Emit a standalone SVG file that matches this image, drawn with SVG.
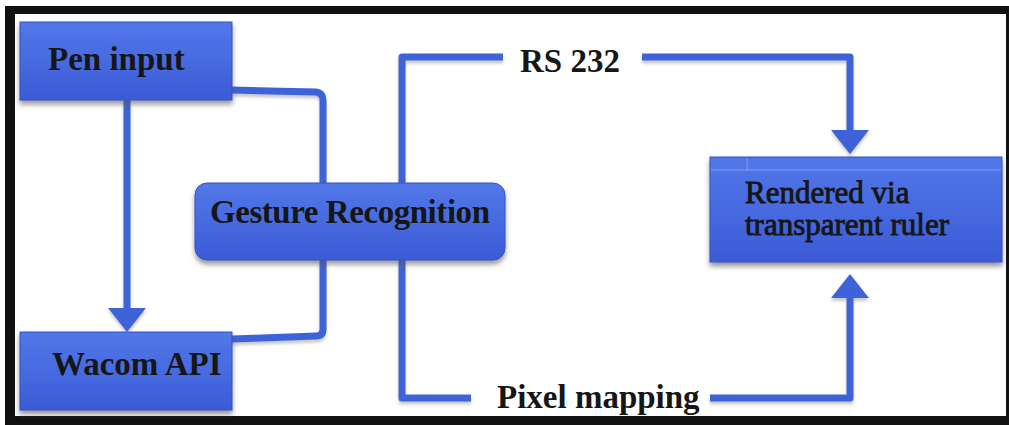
<svg xmlns="http://www.w3.org/2000/svg" width="1009" height="425" viewBox="0 0 1009 425">
<style>
.box{stroke:#3553c8;stroke-width:1;filter:url(#sh)}
.lbl{font-family:"Liberation Serif","Times New Roman",serif;font-weight:bold;font-size:33px;fill:#161616}
.lbl2{font-family:"Liberation Serif","Times New Roman",serif;font-size:31px;fill:#161616;stroke:#161616;stroke-width:0.9}
.con{fill:none;stroke:#3e63d9;stroke-width:7;stroke-linejoin:round;filter:url(#lsh)}
</style>
<defs>
<linearGradient id="g" x1="0" y1="0" x2="0" y2="1">
<stop offset="0" stop-color="#5277e8"/>
<stop offset="0.5" stop-color="#476ae0"/>
<stop offset="1" stop-color="#3a5bd5"/>
</linearGradient>
<filter id="sh" filterUnits="userSpaceOnUse" x="0" y="0" width="1009" height="425">
<feDropShadow dx="0" dy="4" stdDeviation="2.5" flood-color="#555" flood-opacity="0.6"/>
</filter>
<filter id="lsh" filterUnits="userSpaceOnUse" x="0" y="0" width="1009" height="425">
<feDropShadow dx="0" dy="3" stdDeviation="1.5" flood-color="#777" flood-opacity="0.4"/>
</filter>
<marker id="arr" markerUnits="userSpaceOnUse" viewBox="0 0 24 38" markerWidth="24" markerHeight="38" refX="0" refY="19" orient="auto">
<path d="M0,0 L24,19 L0,38 z" fill="#3e63d9"/>
</marker>
</defs>
<rect x="0" y="0" width="1009" height="425" fill="#ffffff"/>
<rect x="5" y="6" width="1004" height="419" fill="#111111"/>
<rect x="15" y="14" width="991" height="402" fill="#ffffff"/>
<g id="connectors">
<path class="con" d="M232,90 L316,92 Q323,93 323,100 L323,183"/>
<path class="con" d="M323,260 L323,329 Q323,336 316,336 L232,339"/>
<path class="con" d="M127,100 L127,308" marker-end="url(#arr)"/>
<path class="con" d="M402,183 L402,57 L503,57"/>
<path class="con" d="M642,57 L850,57 L850,130" marker-end="url(#arr)"/>
<path class="con" d="M402,260 L402,398 L471,398"/>
<path class="con" d="M710,398 L850,398 L850,298" marker-end="url(#arr)"/>
</g>
<g id="pen-input">
<rect class="box" x="20" y="22" width="212" height="78" fill="url(#g)"/>
<text class="lbl" x="48" y="70">Pen input</text>
</g>
<g id="wacom-api">
<rect class="box" x="20" y="332" width="212" height="78" fill="url(#g)"/>
<text class="lbl" x="52" y="375">Wacom API</text>
</g>
<g id="gesture-recognition">
<rect class="box" x="195" y="183" width="310" height="77" rx="12" fill="url(#g)"/>
<text class="lbl" x="350" y="223" text-anchor="middle" textLength="280">Gesture Recognition</text>
</g>
<g id="rendered">
<rect class="box" x="710" y="157" width="292" height="105" fill="url(#g)"/>
<line x1="711" y1="170" x2="1001" y2="170" stroke="#7390ee" stroke-width="1.5"/>
<line x1="747" y1="158" x2="747" y2="170" stroke="#7390ee" stroke-width="1.5"/>
<text class="lbl2" x="745" y="203">Rendered via</text>
<text class="lbl2" x="745" y="235">transparent ruler</text>
</g>
<g id="labels">
<text class="lbl" x="520" y="72">RS 232</text>
<text class="lbl" x="497" y="408">Pixel mapping</text>
</g>
</svg>
